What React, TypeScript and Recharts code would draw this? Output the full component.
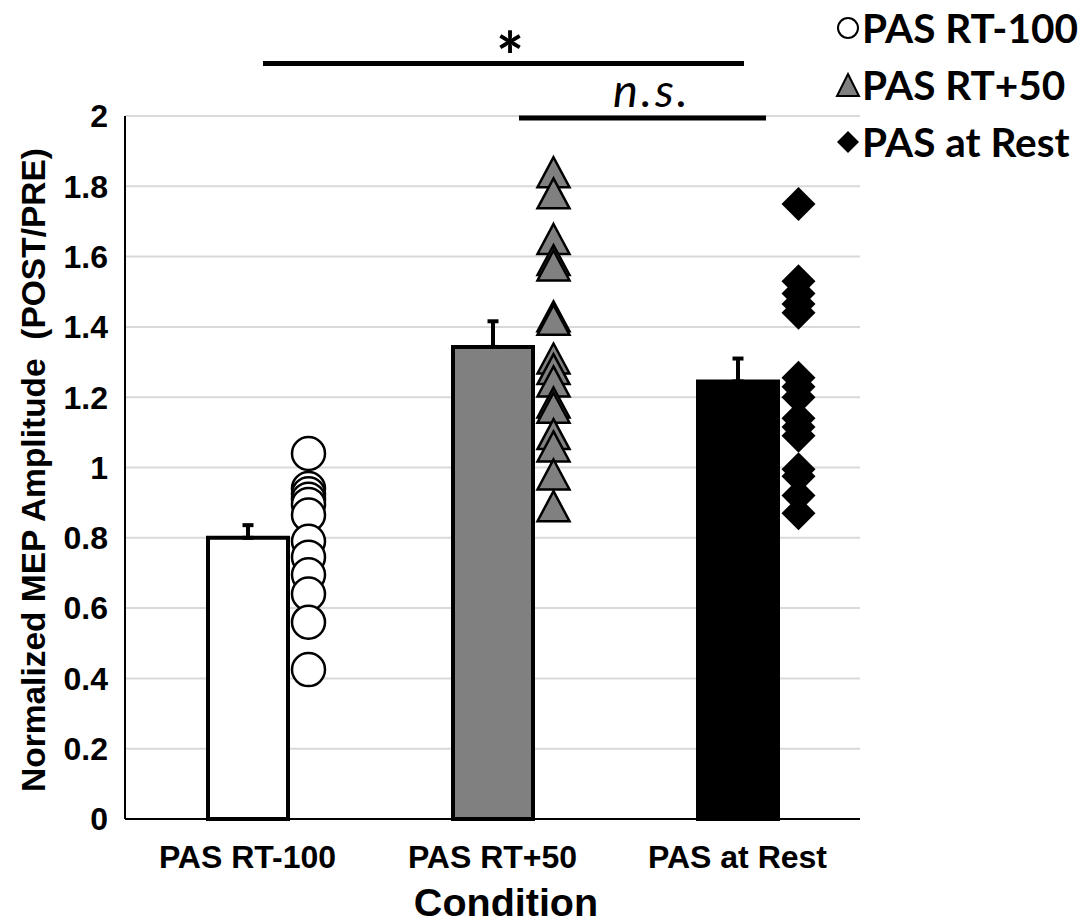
import {
  ComposedChart,
  Bar,
  Cell,
  ErrorBar,
  Scatter,
  XAxis,
  YAxis,
  CartesianGrid,
} from "recharts"

// conditions and group means (POST/PRE)
const CONDITIONS = ["PAS RT-100", "PAS RT+50", "PAS at Rest"]
const MEANS = [0.8, 1.343, 1.245]
const SEM = [0.036, 0.073, 0.065]
const BAR_FILLS = ["#ffffff", "#808080", "#000000"]

// individual subjects
const RT_MINUS_100 = [1.04, 0.94, 0.925, 0.91, 0.895, 0.865, 0.79, 0.745, 0.695, 0.64, 0.56, 0.425]
const RT_PLUS_50 = [1.84, 1.78, 1.65, 1.59, 1.575, 1.43, 1.42, 1.31, 1.28, 1.245, 1.185, 1.17, 1.095, 1.06, 0.98, 0.89]
const AT_REST = [1.75, 1.53, 1.495, 1.465, 1.44, 1.255, 1.23, 1.2, 1.14, 1.115, 1.09, 0.995, 0.975, 0.92, 0.87]

const Y_TICKS = [0, 0.2, 0.4, 0.6, 0.8, 1, 1.2, 1.4, 1.6, 1.8, 2]

const barData = CONDITIONS.map((cond, i) => ({
  cond,
  mean: MEANS[i],
  err: [0, SEM[i]],
}))

const toPoints = (cond: string, vals: number[]) => vals.map((v) => ({ cond, v }))

const AXIS_FONT = "'Liberation Sans', Arial, sans-serif"
const LEGEND_FONT = "Lato, 'Open Sans', sans-serif"
const DOT_SHIFT = 61 // subject markers sit to the right of each bar

const circleShape = (p: any) => (
  <circle cx={p.cx + DOT_SHIFT} cy={p.cy} r={16.5} fill="#fff" stroke="#000" strokeWidth={2.5} />
)

const triangleShape = (p: any) => {
  const x = p.cx + DOT_SHIFT
  const y = p.cy
  return (
    <polygon
      points={`${x},${y - 15} ${x + 16},${y + 15} ${x - 16},${y + 15}`}
      fill="#808080"
      stroke="#000"
      strokeWidth={2.5}
      strokeLinejoin="miter"
    />
  )
}

const diamondShape = (p: any) => {
  const x = p.cx + DOT_SHIFT
  const y = p.cy
  return <polygon points={`${x},${y - 17} ${x + 17},${y} ${x},${y + 17} ${x - 17},${y}`} fill="#000" />
}

const legendText = { fontSize: 40.5, fontWeight: "bold", fontFamily: LEGEND_FONT } as const

export default function App() {
  return (
    <div style={{ position: "absolute", left: 0, top: 0, width: 1092, height: 923, background: "#fff" }}>
      <ComposedChart
        width={1092}
        height={923}
        data={barData}
        margin={{ top: 116, right: 232, bottom: 0, left: 0 }}
      >
        <CartesianGrid vertical={false} stroke="#d9d9d9" strokeWidth={2} />
        <XAxis
          dataKey="cond"
          type="category"
          allowDuplicatedCategory={false}
          height={104}
          tickLine={false}
          tickSize={0}
          tickMargin={26}
          axisLine={{ stroke: "#000", strokeWidth: 2 }}
          tick={{ fontSize: 32, fontWeight: "bold", fill: "#000", fontFamily: AXIS_FONT }}
          label={() => (
            <text
              x={506}
              y={916}
              textAnchor="middle"
              style={{ fontSize: 39.5, fontWeight: "bold", fill: "#000", fontFamily: AXIS_FONT }}
            >
              Condition
            </text>
          )}
        />
        <YAxis
          type="number"
          domain={[0, 2]}
          ticks={Y_TICKS}
          width={125}
          tickLine={false}
          tickSize={0}
          tickMargin={17}
          axisLine={{ stroke: "#000", strokeWidth: 2 }}
          tick={{ fontSize: 32, fontWeight: "bold", fill: "#000", fontFamily: AXIS_FONT }}
          label={() => (
            <text
              x={33}
              y={470}
              transform="rotate(-90 33 470)"
              textAnchor="middle"
              dominantBaseline="central"
              style={{ fontSize: 33.5, fontWeight: "bold", fill: "#000", fontFamily: AXIS_FONT }}
            >
              Normalized MEP Amplitude{"\u00a0\u00a0"}(POST/PRE)
            </text>
          )}
        />
        <Bar dataKey="mean" barSize={80} stroke="#000" strokeWidth={4} isAnimationActive={false}>
          {barData.map((d, i) => (
            <Cell key={d.cond} fill={BAR_FILLS[i]} />
          ))}
          <ErrorBar dataKey="err" direction="y" width={5.5} strokeWidth={4} stroke="#000" />
        </Bar>
        <Scatter data={toPoints(CONDITIONS[0], RT_MINUS_100)} dataKey="v" shape={circleShape} isAnimationActive={false} />
        <Scatter data={toPoints(CONDITIONS[1], RT_PLUS_50)} dataKey="v" shape={triangleShape} isAnimationActive={false} />
        <Scatter data={toPoints(CONDITIONS[2], AT_REST)} dataKey="v" shape={diamondShape} isAnimationActive={false} />
      </ComposedChart>

      {/* significance bars and legend, drawn above the plot area */}
      <svg width={1092} height={923} style={{ position: "absolute", left: 0, top: 0, pointerEvents: "none" }}>
        <text x={510} y={81} textAnchor="middle" style={{ fontSize: 66, fontWeight: "bold", fontFamily: LEGEND_FONT }}>
          *
        </text>
        <line x1={263} y1={63.5} x2={744} y2={63.5} stroke="#000" strokeWidth={5} />
        <text x={613} y={107} style={{ fontSize: 47, fontStyle: "italic", letterSpacing: 3, fontFamily: LEGEND_FONT }}>
          n.s.
        </text>
        <line x1={519} y1={118} x2={766} y2={118} stroke="#000" strokeWidth={5} />

        <circle cx={848} cy={28} r={10} fill="#fff" stroke="#000" strokeWidth={2} />
        <text x={862} y={42.5} style={legendText}>
          PAS RT-100
        </text>
        <polygon points="848,74 859,96 837,96" fill="#808080" stroke="#000" strokeWidth={2} />
        <text x={862} y={99.5} style={legendText}>
          PAS RT+50
        </text>
        <polygon points="848,131 859,142 848,153 837,142" fill="#000" />
        <text x={862} y={156.5} style={legendText}>
          PAS at Rest
        </text>
      </svg>
    </div>
  )
}
